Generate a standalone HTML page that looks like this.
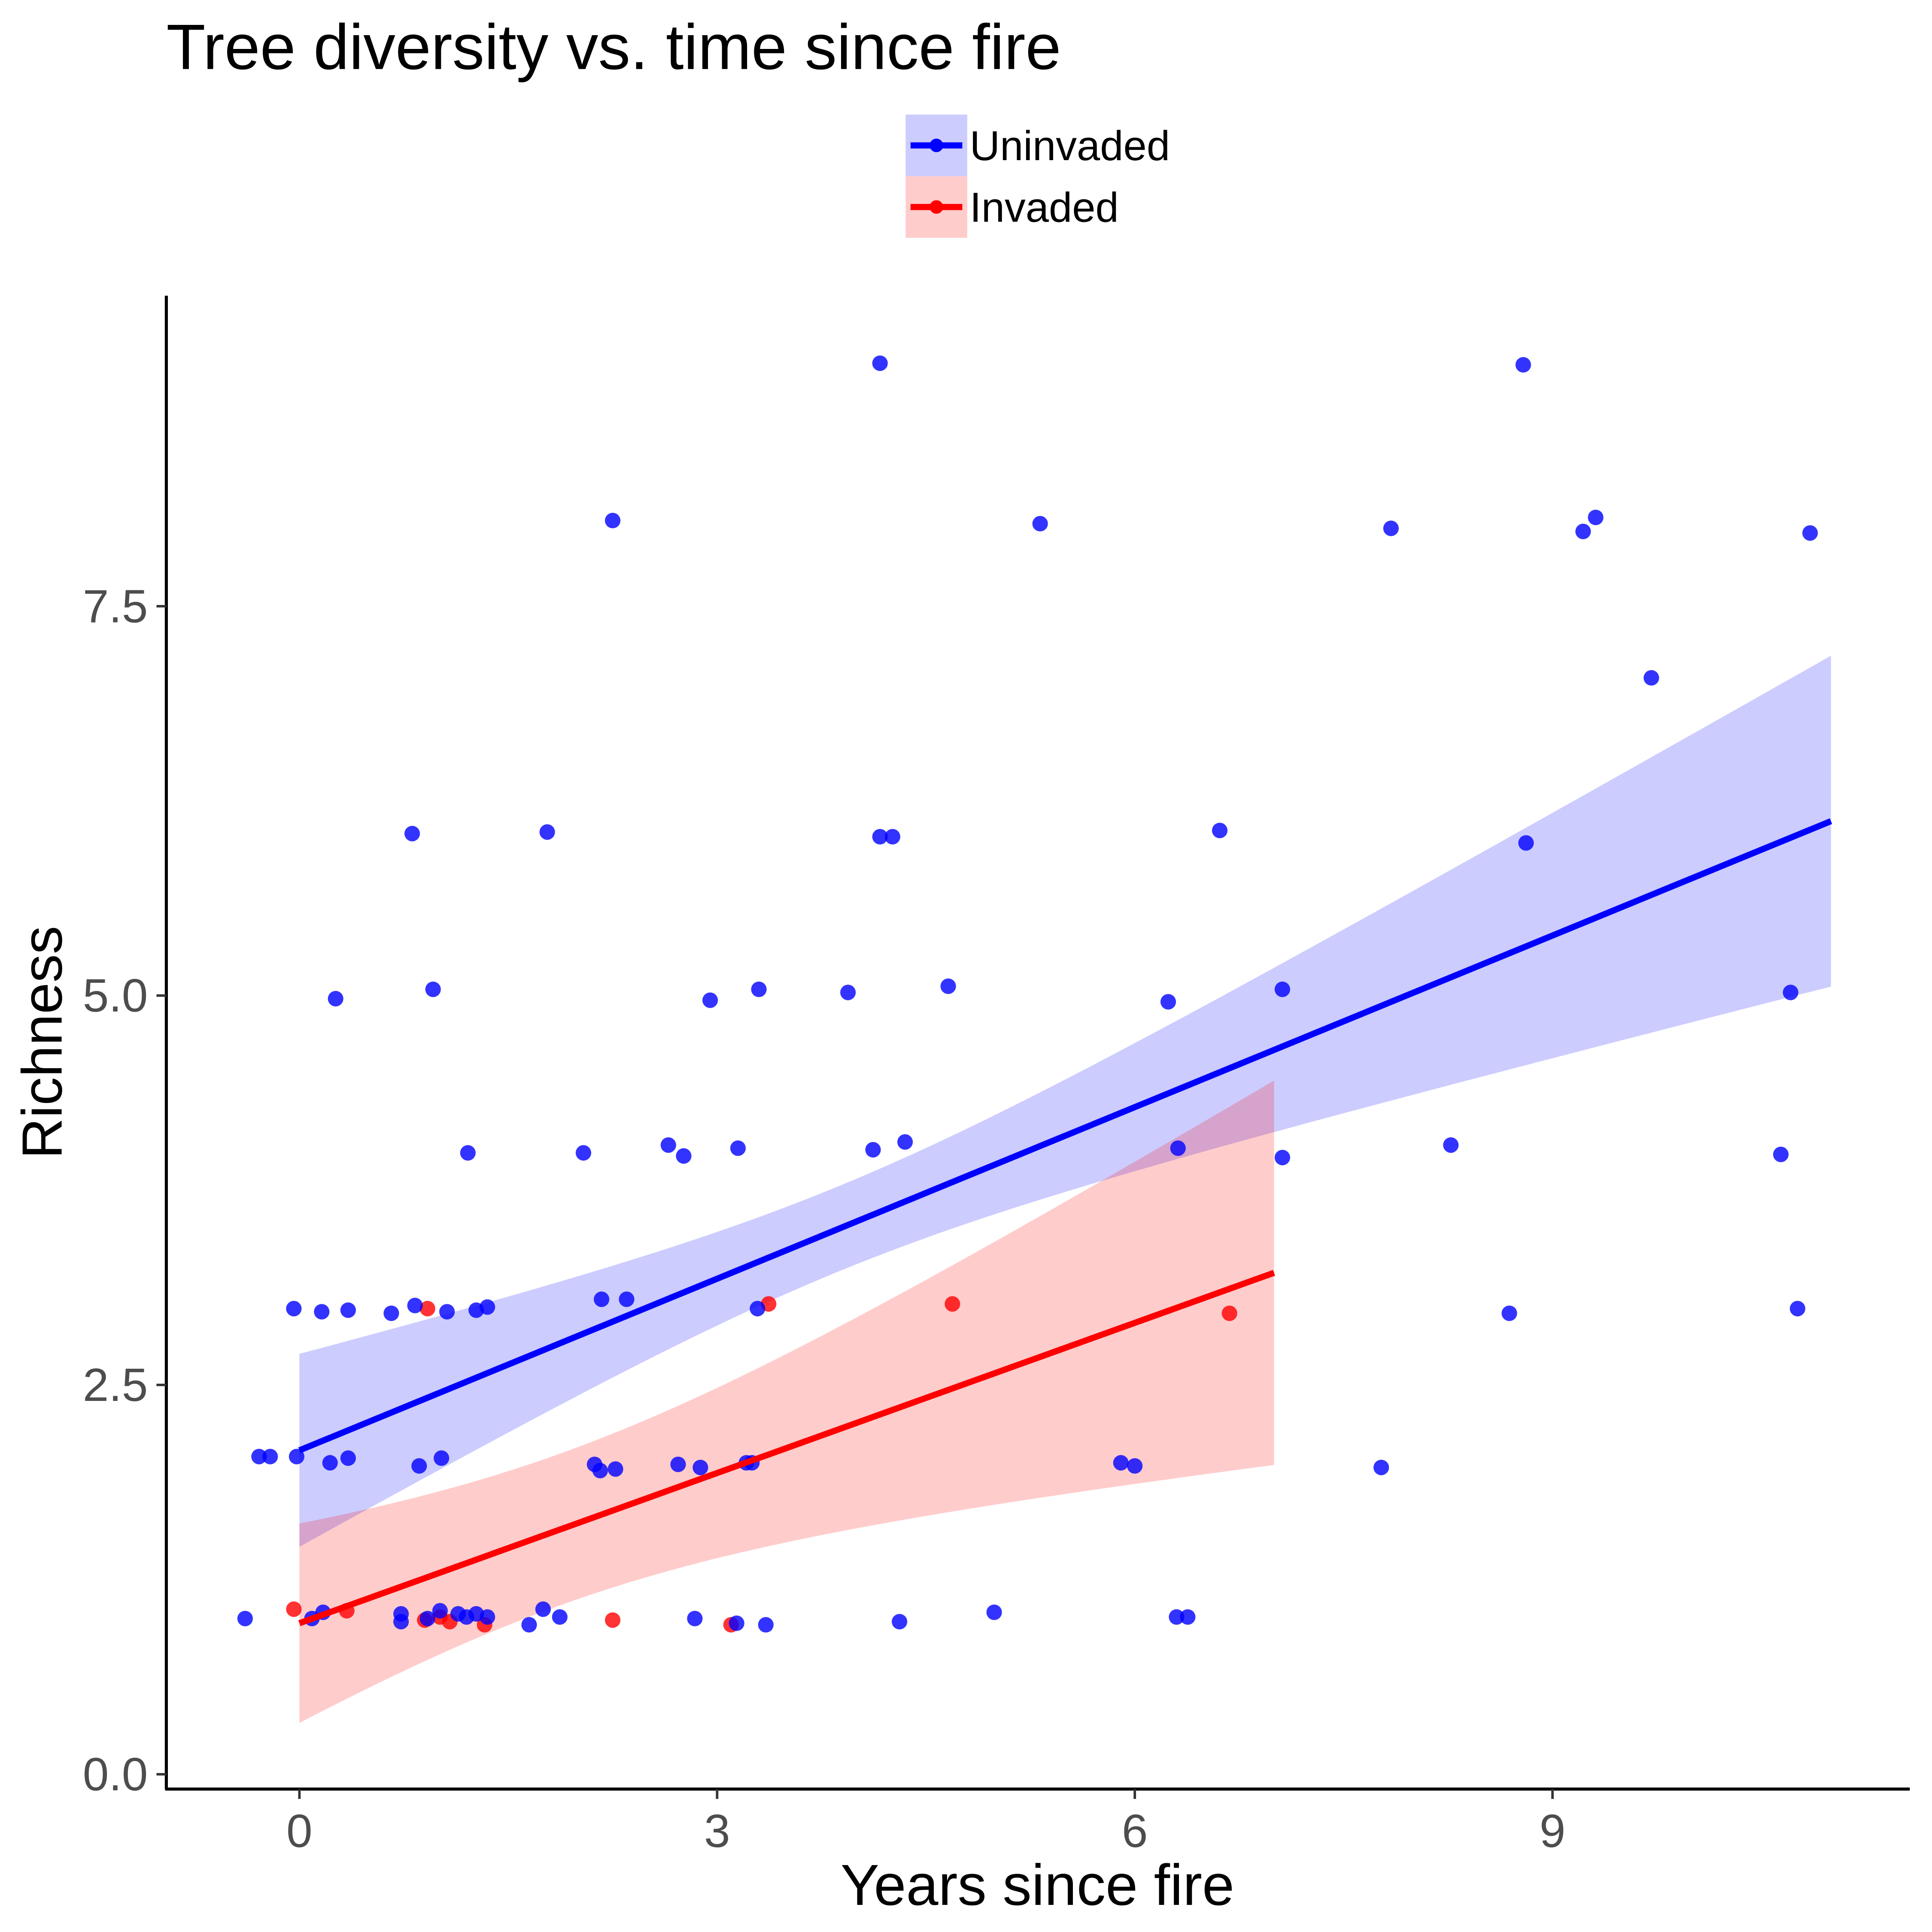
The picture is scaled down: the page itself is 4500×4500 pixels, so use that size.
<!DOCTYPE html>
<html><head><meta charset="utf-8"><style>
html,body{margin:0;padding:0;background:#fff;}
svg{display:block;font-family:"Liberation Sans",Arial,sans-serif;}
</style></head><body>
<svg id="chart" width="4500" height="4500" viewBox="0 0 1568 1568" xmlns="http://www.w3.org/2000/svg">
<rect x="0" y="0" width="1568" height="1568" fill="#fff"/>
<text x="135" y="56" font-size="52" fill="#000">Tree diversity vs. time since fire</text>
<g>
<rect x="735" y="93" width="50" height="50" fill="#0000ff" fill-opacity="0.2"/>
<line x1="739" y1="118" x2="781" y2="118" stroke="#0000ff" stroke-width="5"/>
<circle cx="760" cy="118" r="5.5" fill="#0000ff"/>
<text x="787" y="130" font-size="34">Uninvaded</text>
<rect x="735" y="143" width="50" height="50" fill="#ff0000" fill-opacity="0.2"/>
<line x1="739" y1="168" x2="781" y2="168" stroke="#ff0000" stroke-width="5"/>
<circle cx="760" cy="168" r="5.5" fill="#ff0000"/>
<text x="787" y="180" font-size="34">Invaded</text>
</g>
<g id="plot"></g>
<line x1="135" y1="240" x2="135" y2="1452" stroke="#000" stroke-width="2.5"/>
<line x1="134" y1="1452" x2="1550" y2="1452" stroke="#000" stroke-width="2.5"/>
<g id="axes"></g>
<text x="842" y="1546" font-size="47" text-anchor="middle">Years since fire</text>
<text transform="translate(50,846) rotate(-90)" font-size="46" text-anchor="middle">Richness</text>
</svg>
<script>
const blueX=[-0.39,-0.29,-0.21,-0.04,-0.02,0.09,0.16,0.17,0.22,0.26,0.35,0.35,0.66,0.73,0.73,0.81,0.83,0.86,0.92,0.96,1.01,1.02,1.06,1.14,1.2,1.21,1.27,1.27,1.35,1.35,1.65,1.75,1.78,1.87,2.04,2.12,2.16,2.17,2.25,2.27,2.35,2.65,2.72,2.76,2.84,2.88,2.95,3.14,3.15,3.21,3.25,3.29,3.3,3.35,3.94,4.12,4.17,4.17,4.26,4.31,4.35,4.66,4.99,5.32,5.9,6.0,6.24,6.3,6.31,6.38,6.61,7.06,7.06,7.77,7.84,8.27,8.69,8.79,8.81,9.22,9.31,9.71,10.64,10.71,10.76,10.85];
const blueY=[1.00,2.04,2.04,2.99,2.04,1.00,2.97,1.04,2.0,4.98,2.03,2.98,2.96,1.03,0.98,6.04,3.01,1.98,1.00,5.04,1.05,2.03,2.97,1.03,1.01,3.99,2.98,1.03,3.0,1.01,0.96,1.06,6.05,1.01,3.99,1.99,1.95,3.05,8.05,1.96,3.05,4.04,1.99,3.97,1.00,1.97,4.97,0.97,4.02,2.0,2.0,2.99,5.04,0.96,5.02,4.01,9.06,6.02,6.02,0.98,4.06,5.06,1.04,8.03,2.0,1.98,4.96,1.01,4.02,1.01,6.06,5.04,3.96,1.97,8.0,4.04,2.96,9.05,5.98,7.98,8.07,7.04,3.98,5.02,2.99,7.97];
const redX=[-0.04,0.34,0.92,0.9,1.01,1.08,1.33,2.25,3.1,3.37,4.69,6.68];
const redY=[1.06,1.05,2.99,0.99,1.01,0.98,0.96,0.99,0.96,3.02,3.02,2.96];
const blueFit=[2.08,6.12]; // y at x=0, x=11
const redFit=[0.97,3.22];   // y at x=0, x=7
const blueSE=[0.384,-0.16,0.0207];
const redSE=[0.41,-0.184,0.049];
const xTicks=[0,3,6,9];
const yTicks=[0,2.5,5,7.5];
const yTickLabels=["0.0","2.5","5.0","7.5"];

const NS="http://www.w3.org/2000/svg";
function sx(v){return 243+v*113;}
function sy(v){return 1440-v*126.4;}
const plot=document.getElementById('plot');
const axes=document.getElementById('axes');
function mk(tag,attrs,parent){const e=document.createElementNS(NS,tag);for(const k in attrs)e.setAttribute(k,attrs[k]);parent.appendChild(e);return e;}

function ribbon(fit,x1,se,color,name){
  let up=[],lo=[];
  for(let i=0;i<=60;i++){const x=x1*i/60;const y=fit[0]+(fit[1]-fit[0])*x/x1;const w=Math.sqrt(Math.max(0.0001,se[0]+se[1]*x+se[2]*x*x));up.push(sx(x)+','+sy(y+w));lo.unshift(sx(x)+','+sy(y-w));}
  const p=mk('polygon',{points:up.concat(lo).join(' '),fill:color,'fill-opacity':0.2},plot);
  
  
}
ribbon(blueFit,11,blueSE,'#0000ff','uninvaded-ci-ribbon');
ribbon(redFit,7,redSE,'#ff0000','invaded-ci-ribbon');

for(let i=0;i<redX.length;i++){
  const c=mk('circle',{cx:sx(redX[i]),cy:sy(redY[i]),r:6.3,fill:'#ff0000','fill-opacity':0.8},plot);
  
  
}
for(let i=0;i<blueX.length;i++){
  const c=mk('circle',{cx:sx(blueX[i]),cy:sy(blueY[i]),r:6.3,fill:'#0000ff','fill-opacity':0.8},plot);
  
  
}
let l1=mk('line',{x1:sx(0),y1:sy(blueFit[0]),x2:sx(11),y2:sy(blueFit[1]),stroke:'#0000ff','stroke-width':5},plot);


let l2=mk('line',{x1:sx(0),y1:sy(redFit[0]),x2:sx(7),y2:sy(redFit[1]),stroke:'#ff0000','stroke-width':5},plot);



xTicks.forEach(v=>{
  mk('line',{x1:sx(v),y1:1452,x2:sx(v),y2:1460,stroke:'#333','stroke-width':2},axes);
  const t=mk('text',{x:sx(v),y:1499,'font-size':38,fill:'#4d4d4d','text-anchor':'middle'},axes);
  t.textContent=v;
  
  
});
yTicks.forEach((v,i)=>{
  mk('line',{x1:127,y1:sy(v),x2:135,y2:sy(v),stroke:'#333','stroke-width':2},axes);
  const t=mk('text',{x:120,y:sy(v)+13,'font-size':38,fill:'#4d4d4d','text-anchor':'end'},axes);
  t.textContent=yTickLabels[i];
  
  
});
</script>
</body></html>
